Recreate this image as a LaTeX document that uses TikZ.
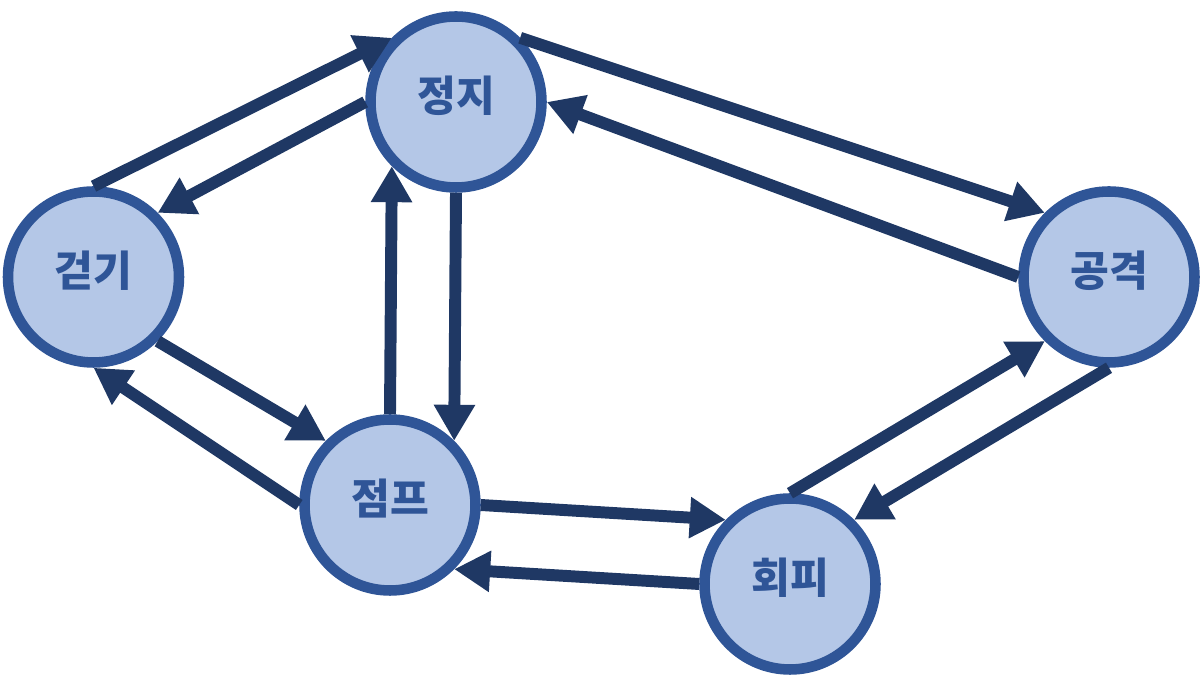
\documentclass[tikz,border=0pt]{standalone}
\usepackage{fontspec}
\newfontfamily\krfont{Noto Sans CJK KR}
\usetikzlibrary{arrows.meta}
\definecolor{statefill}{HTML}{B4C7E7}
\definecolor{stateline}{HTML}{2F5597}
\definecolor{arrowline}{HTML}{1F3864}

\begin{document}
\begin{tikzpicture}[
    state/.style={draw=stateline, fill=statefill, circle, line width=6pt,
      minimum size=3.42cm, inner sep=0pt, text=stateline,
      text height=0.7cm, text depth=0.3cm,
      font=\krfont\bfseries\fontsize{24}{24}\selectfont},
    move/.style={draw=arrowline, line width=6.8pt, ->},
    >={Triangle[length=0.72cm, width=0.78cm]}
  ]
  \useasboundingbox (0,0) rectangle (24.06,13.54);

  % Nodes
  \node[state] (stop) at (9.12,11.50) {정지};
  \node[state] (walk) at (1.87,8.00) {걷기};
  \node[state] (attack) at (22.18,8.00) {공격};
  \node[state] (jump) at (7.80,3.44) {점프};
  \node[state] (dodge) at (15.80,1.86) {회피};

  % Arrows
  \draw[move] (walk.north) -- (stop.north west);
  \draw[move] (stop.west) -- (walk.north east);
  \draw[move] (stop.north east) -- (attack.north west);
  \draw[move] (attack.west) -- (stop.east);
  \draw[move] (walk.south east) -- (jump.north west);
  \draw[move] (jump.west) -- (walk.south);
  \draw[move] (jump.north) -- (stop.south west);
  \draw[move] (stop.south) -- (jump.north east);
  \draw[move] (jump.east) -- (dodge.north west);
  \draw[move] (dodge.west) -- (jump.south east);
  \draw[move] (dodge.north) -- (attack.south west);
  \draw[move] (attack.south) -- (dodge.north east);
\end{tikzpicture}
\end{document}
